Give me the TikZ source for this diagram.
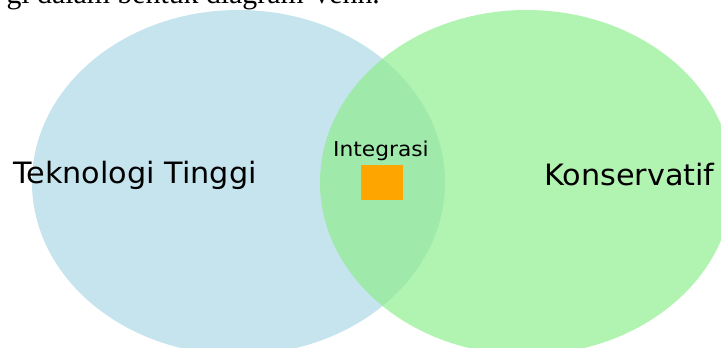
\documentclass[tikz,border=0pt]{standalone}
\usepackage{fontspec}
\newfontfamily\labelfont[FakeStretch=1.03]{DejaVu Sans}
\newfontfamily\midfont[FakeStretch=1.06]{DejaVu Sans}
\newfontfamily\captionserif{Liberation Serif}
\usetikzlibrary{shapes.geometric}
\definecolor{setblue}{HTML}{ADD8E6}
\definecolor{setgreen}{HTML}{90EE90}
\definecolor{markorange}{HTML}{FFA500}
\tikzset{
  setdisc/.style={ellipse, draw=none, fill opacity=0.7, inner sep=0pt,
    minimum width=413pt, minimum height=344.8pt},
  setlabel/.style={anchor=base west, inner sep=0pt, text=black,
    font=\labelfont\fontsize{29.4}{30}\selectfont},
  midlabel/.style={anchor=base west, inner sep=0pt, text=black,
    font=\midfont\fontsize{20.5}{21}\selectfont},
  marker/.style={rectangle, draw=none, fill=markorange, inner sep=0pt,
    minimum width=42pt, minimum height=35pt}
}
\begin{document}
\begin{tikzpicture}[x=1pt, y=-1pt]
  \useasboundingbox (0,0) rectangle (721,348);
  % trailing line of the surrounding text, cut by the page edge
  \node[anchor=base east, inner sep=0pt,
        font=\captionserif\fontsize{29.8}{30}\selectfont] (caption) at (380,4)
        {gi dalam bentuk diagram Venn.};
  % the two sets
  \node[setdisc, fill=setblue]  (tech)  at (238.5,182.4) {};
  \node[setdisc, fill=setgreen] (cons)  at (526.5,182.4) {};
  % labels
  \node[setlabel] (techlabel) at (13,183) {Teknologi Tinggi};
  \node[setlabel] (conslabel) at (544,185) {Konservatif};
  \node[midlabel] (intlabel) at (333,156) {Integrasi};
  % marker in the intersection
  \node[marker] (intmark) at (382,182.5) {};
\end{tikzpicture}
\end{document}
